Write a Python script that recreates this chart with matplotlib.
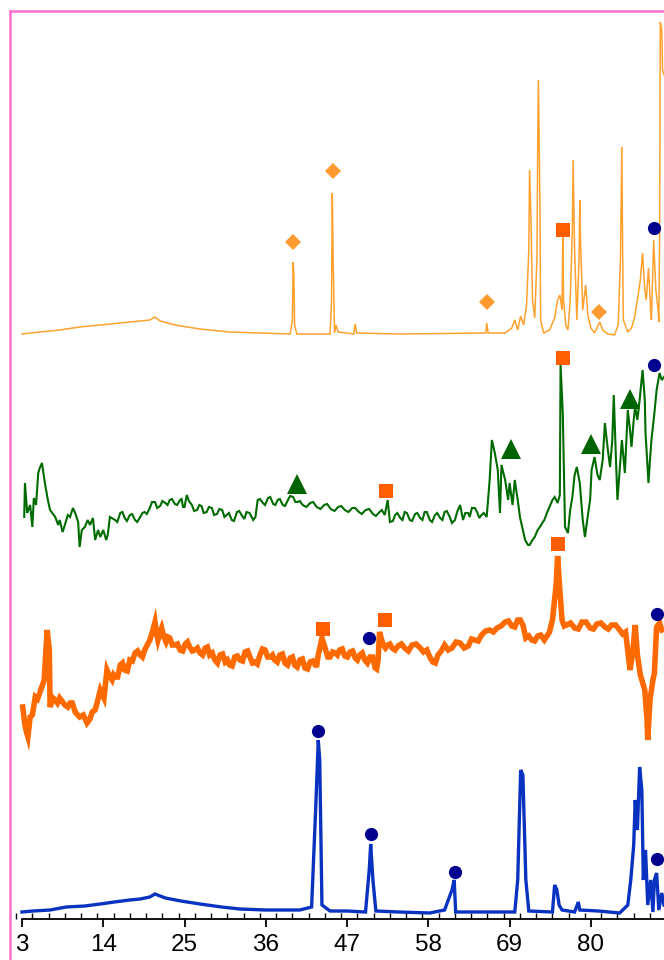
import matplotlib
matplotlib.use('Agg')
from matplotlib import pyplot as plt
from matplotlib.lines import Line2D
from matplotlib.ticker import MultipleLocator

# diffraction patterns, bottom to top (x in 2-theta, y in arbitrary counts above each baseline)
blue_x = [3.0, 4.5, 6.8, 9.0, 11.5, 13.6, 15.5, 17.6, 19.0, 20.3, 21.0, 22.4, 24.5, 27.1, 30.0, 32.5,
          36.0, 40.6, 42.2, 42.8, 43.1, 43.3, 43.6, 44.7, 47.0, 49.5, 50.0, 50.2, 50.5, 50.9, 54.0,
          58.2, 60.2, 61.2, 61.5, 61.7, 65.0, 69.7, 70.1, 70.5, 70.8, 71.2, 71.6, 74.8, 75.1, 75.4,
          75.7, 76.1, 77.8, 78.3, 78.5, 81.0, 83.9, 85.0, 85.4, 85.8, 86.0, 86.3, 86.6, 86.9, 87.1,
          87.4, 87.7, 88.1, 88.4, 88.6, 88.9, 89.2, 89.6, 89.9]
blue_y = [7, 8, 9, 12, 13, 15, 17, 19, 20, 22, 25, 21, 18, 15, 12, 10,
          9, 9, 12, 119, 179, 159, 14, 8, 8, 7, 49, 75, 39, 8, 7,
          6, 9, 29, 39, 7, 7, 7, 39, 149, 144, 39, 8, 7, 34, 29,
          14, 9, 7, 17, 9, 8, 6, 14, 39, 74, 119, 89, 152, 129, 39,
          69, 14, 39, 7, 39, 46, 9, 26, 14]

orange_x = [3.1, 3.4, 3.8, 4.4, 4.8, 5.4, 6.0, 6.4, 6.7, 6.8, 7.5, 8.1, 8.8, 9.5, 10.2, 10.8, 11.8,
            12.5, 12.9, 13.6, 14.1, 14.5, 15.2, 15.6, 16.3, 16.9, 17.6, 18.3, 19.0, 19.6, 20.3, 21.0,
            21.4, 21.9, 22.5, 23.0, 23.7, 24.4, 25.1, 25.7, 26.4, 27.1, 27.8, 28.4, 29.1, 29.8, 30.5,
            31.1, 31.8, 32.5, 33.2, 33.9, 34.5, 35.2, 35.9, 36.6, 37.2, 37.9, 38.6, 39.3, 39.9, 40.6,
            41.3, 42.0, 42.7, 43.1, 43.6, 44.1, 44.7, 45.4, 46.0, 46.7, 47.4, 48.1, 48.7, 49.4, 50.1,
            50.8, 51.2, 51.4, 51.9, 52.5, 53.1, 53.9, 54.8, 55.8, 56.9, 57.8, 58.6, 59.3, 60.2, 61.2,
            62.3, 63.4, 64.3, 65.2, 66.3, 67.3, 68.4, 69.3, 70.1, 70.8, 71.2, 72.0, 72.8, 73.7, 74.4,
            74.8, 75.3, 75.5, 75.8, 76.1, 76.7, 77.8, 78.8, 79.9, 80.8, 81.9, 82.8, 83.9, 84.7, 85.3,
            85.7, 86.0, 86.3, 86.7, 87.3, 87.6, 87.7, 88.0, 88.4, 88.6, 88.9, 89.3, 89.6]
orange_y = [22, 4, -8, 14, 32, 36, 49, 99, 79, 22, 29, 31, 24, 26, 17, 12, 6,
            17, 19, 39, 31, 59, 49, 52, 64, 59, 69, 76, 74, 79, 89, 107,
            89, 101, 87, 91, 84, 79, 85, 82, 79, 76, 81, 74, 69, 74, 67,
            64, 72, 69, 77, 71, 67, 74, 79, 72, 69, 74, 66, 71, 64, 69,
            61, 67, 64, 74, 91, 79, 72, 76, 79, 73, 77, 71, 74, 69, 72,
            61, 69, 97, 84, 84, 81, 83, 81, 84, 81, 79, 67, 74, 84, 81,
            86, 83, 89, 94, 99, 101, 107, 103, 109, 104, 91, 89, 93, 89, 97,
            109, 144, 173, 139, 109, 104, 101, 107, 101, 105, 102, 104, 99, 97, 59,
            79, 104, 74, 54, 39, 9, -11, 29, 49, 56, 102, 106, 99]
# extra readings between the main ones (counting noise of the orange pattern)
orange_noise_x = [3.6, 4.1, 5.1, 7.2, 7.8, 9.2, 9.8, 11.3, 12.2, 13.2,
                  14.3, 14.85, 15.4, 15.95, 16.6, 17.25, 17.95, 18.65, 19.3, 19.95, 20.65,
                  21.2, 21.65, 22.2, 22.75, 23.35, 24.05, 24.75, 25.4, 26.05, 26.75, 27.45, 28.1,
                  28.75, 29.45, 30.15, 30.8, 31.45, 32.15, 32.85, 33.55, 34.2, 34.85, 35.55, 36.25,
                  36.9, 37.55, 38.25, 38.95, 39.6, 40.25, 40.95, 41.65, 42.35, 42.9, 43.35, 43.85,
                  44.4, 45.05, 45.7, 46.35, 47.05, 47.75, 48.4, 49.05, 49.75, 50.45, 51.0, 51.65,
                  52.2, 52.8, 53.5, 54.35, 55.3, 56.35, 57.35, 58.2, 58.95, 59.75, 60.7, 61.75,
                  62.85, 63.85, 64.75, 65.75, 66.8, 67.85, 68.85, 69.7, 70.45, 71.6, 72.4, 73.2,
                  76.4, 77.25, 78.3, 79.35, 80.35, 81.35, 82.35, 83.35, 84.3]
orange_noise_y = [-3, 12, 30, 31, 26, 22, 26, 14, 10, 27,
                  45, 53, 54, 52, 66, 58, 68, 78, 72, 84, 97,
                  96, 96, 92, 92, 84, 85, 78, 87, 78, 81, 74, 82,
                  76, 66, 75, 69, 63, 73, 68, 78, 66, 65, 80, 72,
                  74, 67, 75, 64, 72, 62, 70, 60, 68, 64, 82, 85,
                  72, 77, 74, 80, 72, 78, 69, 76, 66, 72, 60, 90,
                  81, 85, 79, 85, 78, 85, 77, 72, 66, 78, 79, 87,
                  81, 90, 88, 98, 97, 103, 108, 102, 109, 93, 88, 94,
                  103, 106, 100, 107, 100, 106, 100, 104, 95]

green_x = [3.3, 3.4, 3.7, 4.1, 4.4, 4.6, 4.9, 5.2, 5.4, 5.7, 6.1, 6.5, 6.8, 7.5, 7.9, 8.1, 8.5, 8.8,
           9.2, 9.5, 9.9, 10.2, 10.6, 10.8, 11.1, 11.5, 11.9, 12.2, 12.6, 12.9, 13.3, 13.6, 14.0,
           14.4, 14.6, 14.9, 15.6, 16.3, 16.9, 17.6, 18.3, 19.0, 19.6, 20.3, 21.0, 21.7, 22.4, 23.0,
           23.7, 24.4, 24.8, 25.3, 26.0, 26.7, 27.3, 28.0, 28.7, 29.4, 30.1, 30.7, 31.4, 32.1, 32.8,
           33.4, 34.3, 34.9, 35.6, 36.3, 37.0, 37.6, 38.3, 39.0, 39.7, 40.3, 41.0, 42.0, 42.9, 43.9,
           44.8, 45.8, 46.7, 47.7, 48.6, 49.5, 50.5, 51.4, 52.1, 52.5, 52.8, 53.5, 54.2, 54.8, 55.5,
           56.2, 56.9, 57.5, 58.2, 58.9, 59.6, 60.2, 60.9, 61.6, 62.3, 62.7, 63.4, 63.9, 64.6, 65.2,
           65.9, 66.3, 66.6, 67.0, 67.4, 67.7, 67.9, 68.4, 68.8, 69.0, 69.4, 69.7, 70.1, 70.4, 70.8,
           71.1, 71.5, 71.7, 72.1, 72.4, 72.8, 73.1, 73.5, 73.7, 74.1, 74.4, 74.8, 75.1, 75.5, 75.8,
           75.9, 76.2, 76.5, 76.9, 77.2, 77.5, 77.8, 78.1, 78.5, 78.9, 79.2, 79.6, 79.9, 80.1, 80.5,
           80.9, 81.2, 81.6, 81.9, 82.3, 82.6, 82.9, 83.1, 83.4, 83.6, 83.9, 84.2, 84.6, 85.0, 85.3,
           85.5, 85.8, 86.0, 86.3, 86.6, 87.0, 87.3, 87.4, 87.8, 88.0, 88.2, 88.6, 88.9, 89.3, 89.6,
           89.9]
green_y = [22, 56, 26, 34, 12, 41, 34, 66, 71, 76, 56, 39, 29, 22, 14, 19, 7, 14,
           24, 22, 31, 26, 17, -8, 9, 12, 19, 14, 21, -1, 9, 2, 9,
           -1, 4, 22, 19, 26, 21, 24, 19, 22, 27, 31, 37, 33, 36, 39,
           35, 39, 32, 44, 34, 29, 33, 27, 31, 25, 29, 24, 19, 27, 23,
           27, 19, 39, 36, 41, 35, 39, 34, 39, 42, 37, 34, 36, 32, 34,
           30, 32, 29, 31, 27, 29, 25, 27, 24, 39, 17, 24, 21, 27, 19,
           25, 21, 27, 19, 24, 21, 27, 22, 19, 34, 19, 26, 31, 27, 24,
           22, 59, 99, 86, 69, 26, 74, 59, 39, 56, 34, 59, 39, 22, 9,
           -1, -6, -6, -1, 2, 9, 12, 17, 19, 27, 32, 39, 42, 36, 44,
           174, 126, 12, 6, 29, 42, 64, 72, 56, 19, 2, 24, 39, 69, 82,
           64, 59, 79, 116, 89, 72, 99, 144, 79, 39, 69, 99, 66, 129, 109,
           92, 119, 132, 119, 139, 169, 139, 106, 56, 79, 99, 126, 149, 166, 159,
           162]
green_noise_x = [15.9, 16.6, 17.2, 17.9, 18.6, 19.3, 19.9, 20.6, 21.3, 22.0, 22.7, 23.3, 24.0,
                 24.6, 25.0, 25.6, 26.3, 27.0, 27.6, 28.3, 29.0, 29.7, 30.4, 31.0, 31.7, 32.4,
                 33.1, 33.8, 34.6, 35.2, 35.9, 36.6, 37.3, 37.9, 38.6, 39.3, 40.0, 40.6, 41.5,
                 42.4, 43.4, 44.3, 45.3, 46.2, 47.2, 48.1, 49.0, 50.0, 50.9, 51.7, 53.2, 53.8,
                 54.5, 55.1, 55.8, 56.5, 57.2, 57.8, 58.5, 59.2, 59.9, 60.5, 61.2, 61.9, 63.0,
                 63.6, 64.3, 64.9, 65.5]
green_noise_y = [17, 27, 18, 25, 17, 26, 25, 37, 31, 38, 34, 40, 34,
                 40, 32, 38, 28, 34, 26, 32, 24, 30, 22, 26, 18, 28,
                 20, 26, 22, 40, 34, 42, 34, 40, 33, 43, 37, 38, 32,
                 37, 30, 35, 28, 33, 27, 31, 25, 30, 23, 29, 18, 26,
                 19, 26, 18, 26, 19, 27, 17, 26, 19, 28, 16, 27, 26,
                 22, 31, 21, 26]

light_x = [3.0, 5.4, 8.1, 10.8, 13.6, 16.3, 19.0, 20.3, 21.0, 21.7, 23.7, 27.1, 31.1, 35.2, 39.3,
           39.6, 39.7, 39.8, 39.9, 40.2, 44.7, 44.9, 45.0, 45.1, 45.3, 45.5, 45.8, 47.9, 48.1, 48.3,
           54.2, 65.8, 65.9, 66.1, 68.4, 69.3, 69.7, 70.1, 70.5, 70.9, 71.3, 71.6, 71.7, 71.9, 72.1,
           72.4, 72.7, 72.8, 72.9, 73.1, 73.2, 73.6, 74.4, 75.1, 75.5, 75.8, 76.1, 76.2, 76.3, 76.6,
           76.9, 77.2, 77.5, 77.6, 77.8, 78.1, 78.4, 78.5, 78.6, 78.9, 79.3, 79.6, 80.0, 80.5, 81.2,
           81.6, 82.3, 83.2, 83.7, 84.0, 84.2, 84.3, 84.4, 85.0, 85.5, 85.9, 86.3, 86.7, 87.0, 87.3,
           87.5, 87.8, 88.1, 88.2, 88.5, 88.8, 89.1, 89.2, 89.3, 89.4, 89.6, 89.7, 89.9]
light_y = [5, 7, 9, 12, 14, 16, 18, 19, 22, 18, 14, 10, 7, 6, 5,
           19, 77, 64, 14, 5, 5, 39, 146, 89, 6, 14, 7, 5, 15, 6,
           5, 6, 16, 6, 6, 11, 19, 9, 23, 14, 34, 89, 169, 119, 39,
           21, 79, 189, 259, 139, 19, 6, 9, 21, 39, 44, 29, 107, 39, 14,
           9, 39, 109, 179, 89, 19, 79, 139, 99, 29, 54, 24, 11, 6, 17,
           9, 5, 4, 14, 79, 192, 89, 19, 7, 11, 21, 39, 59, 86, 49,
           39, 71, 29, 19, 99, 49, 29, 17, 99, 317, 309, 269, 264]

offsets = [0, 190, 380, 580]
colors = ['#0a32c0', '#ff6a00', '#006b00', '#ffa12e']
widths = [2.4, 4.0, 1.5, 1.1]

# phase markers: (x, height above baseline) per trace
blue_circles = ([43.1, 50.2, 61.6, 88.9], [188, 85, 47, 60])
orange_squares = ([43.7, 52.1, 75.5], [100, 109, 185])
orange_circles = ([50.0, 88.9], [91, 115])
green_triangles = ([40.2, 69.2, 80.0, 85.3], [55, 90, 95, 140])
green_squares = ([52.3, 76.2], [48, 181])
green_circles = ([88.6], [174])
light_diamonds = ([39.7, 45.1, 65.9, 81.1], [97, 168, 37, 27])
light_squares = ([76.2], [109])
light_circles = ([88.5], [111])

tick_values = [3, 14, 25, 36, 47, 58, 69, 80]

sq_color = '#ff5e00'
circ_color = '#00008e'
tri_color = '#006400'
dia_color = '#ff9a30'


def shift(vals, off):
    return [v + off for v in vals]


def merge(xs, ys, nx, ny):
    pts = sorted(list(zip(xs, ys)) + list(zip(nx, ny)))
    return [p[0] for p in pts], [p[1] for p in pts]


def main():
    fig = plt.figure(figsize=(6.64, 9.6), dpi=100)
    ax = fig.add_axes([10 / 664, 41 / 960, 654 / 664, 908 / 960])

    ox, oy = merge(orange_x, orange_y, orange_noise_x, orange_noise_y)
    gx, gy = merge(green_x, green_y, green_noise_x, green_noise_y)
    series = [(blue_x, blue_y), (ox, oy), (gx, gy), (light_x, light_y)]
    for (xs, ys), off, c, lw in zip(series, offsets, colors, widths):
        ax.plot(xs, shift(ys, off), color=c, lw=lw, solid_joinstyle='miter', zorder=2)

    def mark(data, off, m, c, ms):
        ax.plot(data[0], shift(data[1], off), linestyle='none', marker=m, color=c,
                markersize=ms, markeredgewidth=0, zorder=3, clip_on=False)

    mark(blue_circles, offsets[0], 'o', circ_color, 9.5)
    mark(orange_squares, offsets[1], 's', sq_color, 9.5)
    mark(orange_circles, offsets[1], 'o', circ_color, 9.5)
    mark(green_triangles, offsets[2], '^', tri_color, 14)
    mark(green_squares, offsets[2], 's', sq_color, 9.5)
    mark(green_circles, offsets[2], 'o', circ_color, 9.5)
    mark(light_diamonds, offsets[3], 'D', dia_color, 8)
    mark(light_squares, offsets[3], 's', sq_color, 9.5)
    mark(light_circles, offsets[3], 'o', circ_color, 9.5)

    ax.set_xlim(3 - 12 / 7.39, 89.9)
    ax.set_ylim(0, 908)

    for s in ['top', 'left', 'right']:
        ax.spines[s].set_visible(False)
    ax.spines['bottom'].set_bounds(3, 89.9)
    ax.spines['bottom'].set_color('black')
    ax.spines['bottom'].set_linewidth(1.3)

    ax.set_xticks(tick_values)
    ax.set_xticklabels([str(t) for t in tick_values],
                       family=['Liberation Sans Narrow', 'Liberation Sans'], fontsize=17.5)
    ax.xaxis.set_minor_locator(MultipleLocator(2.2))
    ax.tick_params(axis='x', which='major', direction='out', length=6, width=1.3, pad=5)
    ax.tick_params(axis='x', which='minor', direction='in', length=4, width=1.0)
    ax.set_yticks([])

    pink = '#ff6fcc'
    fig.add_artist(Line2D([10 / 664, 1.0], [949 / 960, 949 / 960], color=pink, lw=1.8))
    fig.add_artist(Line2D([10 / 664, 10 / 664], [0, 949 / 960], color=pink, lw=1.8))

    fig.savefig('out.png', dpi=100)


if __name__ == "__main__":
    main()
